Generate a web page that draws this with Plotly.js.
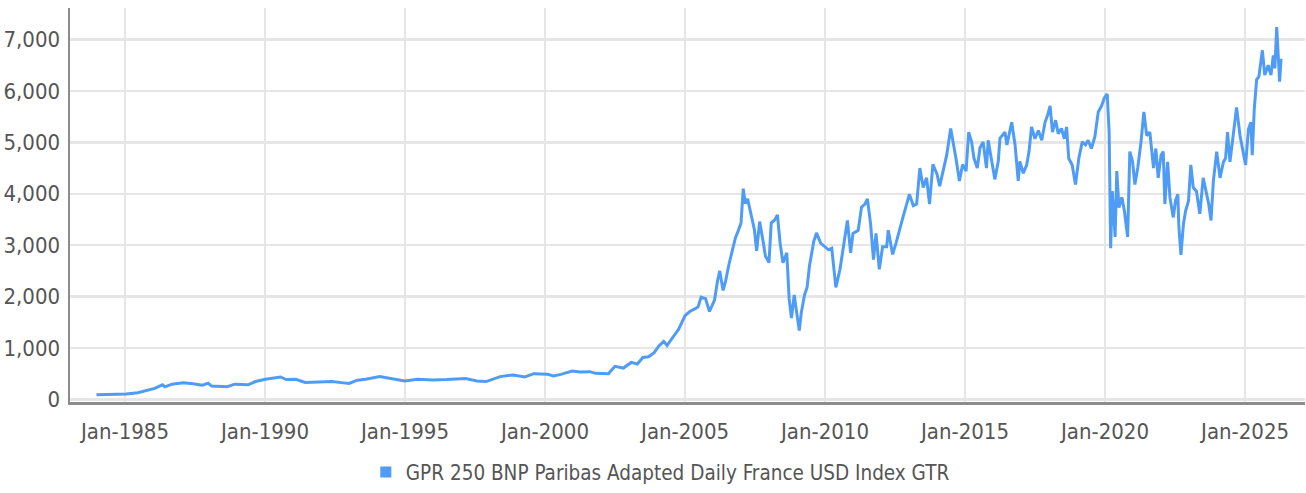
<!DOCTYPE html>
<html>
<head>
<meta charset="utf-8">
<script src="https://cdn.plot.ly/plotly-3.0.1.min.js"></script>
<style>html,body{margin:0;padding:0;background:#fff;}#chart{width:1306px;height:493px;}</style>
</head>
<body>
<div id="chart"></div>
<script>
const seriesName = "GPR 250 BNP Paribas Adapted Daily France USD Index GTR";

const dates = [
"1983-12-25","1984-07-01","1985-01-15","1985-06-15","1985-10-15","1986-01-22","1986-05-05","1986-06-05","1986-09-05",
"1987-02-01","1987-06-05","1987-10-08","1987-12-20","1988-02-05","1988-08-25","1988-12-01","1989-05-25","1989-09-01",
"1990-01-05","1990-07-22","1990-10-05","1991-02-05","1991-06-10","1991-12-28","1992-05-25","1992-10-20","1993-01-01",
"1993-04-20","1993-08-05","1994-02-05","1994-07-01","1994-12-28","1995-06-18","1996-01-01","1996-07-01","1997-03-03",
"1997-07-26","1997-11-25","1998-05-25","1998-11-12","1999-04-12","1999-08-08","2000-02-05","2000-04-20","2000-07-26",
"2000-12-20","2001-04-01","2001-08-08","2001-10-20",
"2002-01-10","2002-04-08","2002-07-01","2002-10-20","2003-01-30","2003-04-20","2003-07-01","2003-09-12","2003-11-25",
"2004-01-26","2004-03-28","2004-05-12","2004-07-12","2004-10-08","2005-01-01","2005-03-03","2005-05-08","2005-06-20",
"2005-07-30","2005-09-25","2005-11-15","2006-01-20","2006-03-01","2006-03-30","2006-05-12","2006-06-15","2006-07-28",
"2006-09-10","2006-10-20","2006-12-01","2007-01-01","2007-01-30","2007-02-25","2007-03-28","2007-05-12","2007-06-25",
"2007-07-24","2007-09-01","2007-10-20","2007-11-15","2008-01-01","2008-01-30","2008-03-15","2008-04-20","2008-05-25",
"2008-07-01","2008-08-20","2008-09-20","2008-10-20","2008-11-25","2009-01-01","2009-01-30","2009-02-25","2009-04-08",
"2009-05-12","2009-06-12","2009-08-08","2009-09-12","2009-11-05",
"2010-02-15","2010-03-30","2010-05-22","2010-07-15","2010-08-25","2010-10-20","2010-12-01","2011-01-01","2011-03-10",
"2011-04-22","2011-06-05","2011-07-08","2011-08-18","2011-09-25","2011-10-28","2011-12-10","2012-01-22","2012-03-15",
"2012-04-05","2012-06-01","2012-07-15","2012-09-05","2012-10-20","2012-12-01","2013-01-05","2013-02-25","2013-04-10",
"2013-05-22","2013-07-05","2013-08-18","2013-09-25","2013-11-08","2014-01-01","2014-02-05","2014-03-25","2014-05-08",
"2014-06-28","2014-08-01","2014-09-05","2014-10-20","2014-12-01","2015-01-15","2015-02-18","2015-03-28","2015-04-28",
"2015-06-10","2015-07-15","2015-08-25","2015-10-08","2015-10-30","2015-12-12","2016-01-25","2016-03-10","2016-04-01",
"2016-06-05","2016-07-01","2016-09-01","2016-10-15","2016-11-25",
"2016-12-15","2017-01-30","2017-03-15","2017-04-15","2017-05-18","2017-07-01","2017-08-15","2017-09-28","2017-11-10",
"2017-12-12","2018-01-15","2018-02-15","2018-03-28","2018-05-01","2018-06-12","2018-07-20","2018-08-18","2018-09-15",
"2018-10-30","2018-12-12","2019-01-25","2019-03-10","2019-04-22","2019-05-25","2019-07-08","2019-08-22","2019-10-05",
"2019-11-18","2019-12-25","2020-01-30","2020-02-24","2020-03-15","2020-04-05","2020-05-12","2020-06-03","2020-07-01",
"2020-08-08","2020-09-10","2020-10-22","2020-11-20","2020-12-25","2021-01-25","2021-03-03","2021-04-15","2021-05-22",
"2021-06-28","2021-08-08","2021-09-25","2021-10-25","2021-11-25","2022-01-01","2022-01-30","2022-02-20","2022-03-28",
"2022-04-28","2022-06-10","2022-07-08","2022-08-08","2022-08-22","2022-09-18","2022-10-20","2022-11-18","2022-12-25",
"2023-01-25","2023-02-25","2023-04-08","2023-05-22","2023-07-05","2023-08-18","2023-09-15","2023-10-15","2023-11-15",
"2023-12-28","2024-02-10","2024-03-25","2024-04-22","2024-05-18","2024-06-18","2024-07-30","2024-09-12","2024-10-28",
"2024-12-01","2025-01-08","2025-02-15","2025-03-18","2025-04-05","2025-05-01","2025-06-01","2025-07-01","2025-08-15",
"2025-09-15","2025-10-30","2025-12-05","2026-01-05","2026-01-25","2026-02-18","2026-03-10","2026-03-28","2026-04-15"
];

const values = [
93,99,105,130,170,214,284,245,297,
322,303,278,316,259,246,297,284,348,
393,437,386,393,329,348,348,322,310,
374,393,444,412,360,393,380,386,405,
360,348,444,476,437,501,488,456,488,
552,533,540,507,
510,500,643,610,720,690,815,830,910,
1040,1130,1050,1180,1360,1630,1710,1760,1800,
1990,1960,1710,1930,2310,2500,2120,2310,2630,
2920,3140,3300,3430,4100,3810,3900,3620,3300,
2890,3460,3040,2790,2660,3430,3490,3590,3040,
2660,2850,1960,1580,2030,1640,1340,1680,2030,
2180,2600,3080,3240,3040,
2910,2940,2180,2530,2910,3480,2850,3230,3290,
3740,3800,3900,3420,2720,3230,2530,2970,2970,
3290,2820,3040,3360,3580,3800,3990,3770,3800,
4500,4120,4310,3800,4570,4380,4150,4470,4760,
5270,5010,4690,4250,4570,4440,5200,5010,4690,
4500,4890,5010,4500,5040,4690,4280,4630,5080,
5200,4950,5390,4950,4250,
4630,4400,4560,4820,5300,5070,5230,5040,5390,
5520,5710,5200,5430,5170,5270,5070,5300,4690,
4560,4180,4690,5010,4950,5040,4880,5110,5590,
5710,5870,5940,5200,2940,4050,3160,4440,3730,
3930,3670,3160,4820,4630,4180,4500,5010,5590,
5130,5200,4500,4880,4310,4750,4820,3800,4620,
3920,3540,3860,3990,3350,2810,3410,3670,3860,
4560,4120,4050,3610,4310,3990,3800,3480,4250,
4820,4310,4620,4690,5200,4620,5130,5680,5130,
4820,4560,5260,5390,4750,5640,6220,6280,6790,
6310,6500,6310,6690,6440,7240,6660,6180,6630
];

const tickDates = ["1985-01-01","1990-01-01","1995-01-01","2000-01-01","2005-01-01","2010-01-01","2015-01-01","2020-01-01","2025-01-01"];
const tickLabels = ["Jan-1985","Jan-1990","Jan-1995","Jan-2000","Jan-2005","Jan-2010","Jan-2015","Jan-2020","Jan-2025"];
const yTicks = [0,1000,2000,3000,4000,5000,6000,7000];

const FONT = '"DejaVu Sans Condensed", "Liberation Sans Narrow", "Roboto", sans-serif';
const BLUE = '#4f9cf6';
const TXT = '#555555';

const traces = [
  {x: dates, y: values, type: 'scatter', mode: 'lines', line: {color: BLUE, width: 3}, showlegend: false, hoverinfo: 'x+y'},
  {x: [null], y: [null], type: 'scatter', mode: 'markers', name: seriesName,
   marker: {color: BLUE, symbol: 'square', size: 11}, showlegend: true}
];

const layout = {
  width: 1306, height: 493,
  margin: {l: 70, r: 1, t: 8, b: 85},
  paper_bgcolor: '#ffffff', plot_bgcolor: '#ffffff',
  font: {family: FONT, size: 20, color: TXT},
  showlegend: true,
  legend: {orientation: 'h', x: 0.478, xanchor: 'center', y: -0.178, yanchor: 'middle',
           font: {family: FONT, size: 20.5, color: TXT}, itemwidth: 30, tracegroupgap: 0},
  xaxis: {
    type: 'date', range: ['1983-01-14', '2027-02-22'],
    tickvals: tickDates, ticktext: tickLabels,
    showgrid: true, gridcolor: '#e6e6e6', gridwidth: 2.5,
    showline: true, linecolor: '#8c8c8c', linewidth: 2.5,
    ticks: '', ticklabelstandoff: 8, zeroline: false,
    tickfont: {family: FONT, size: 22, color: TXT}
  },
  yaxis: {
    range: [-50, 7613],
    tickvals: yTicks, tickformat: ',d',
    showgrid: true, gridcolor: '#e6e6e6', gridwidth: 2.5,
    showline: true, linecolor: '#8c8c8c', linewidth: 2.5,
    ticks: '', ticklabelstandoff: 3, zeroline: false,
    tickfont: {family: FONT, size: 22, color: TXT}
  }
};

Plotly.newPlot('chart', traces, layout, {displayModeBar: false, staticPlot: true});
</script>
</body>
</html>
